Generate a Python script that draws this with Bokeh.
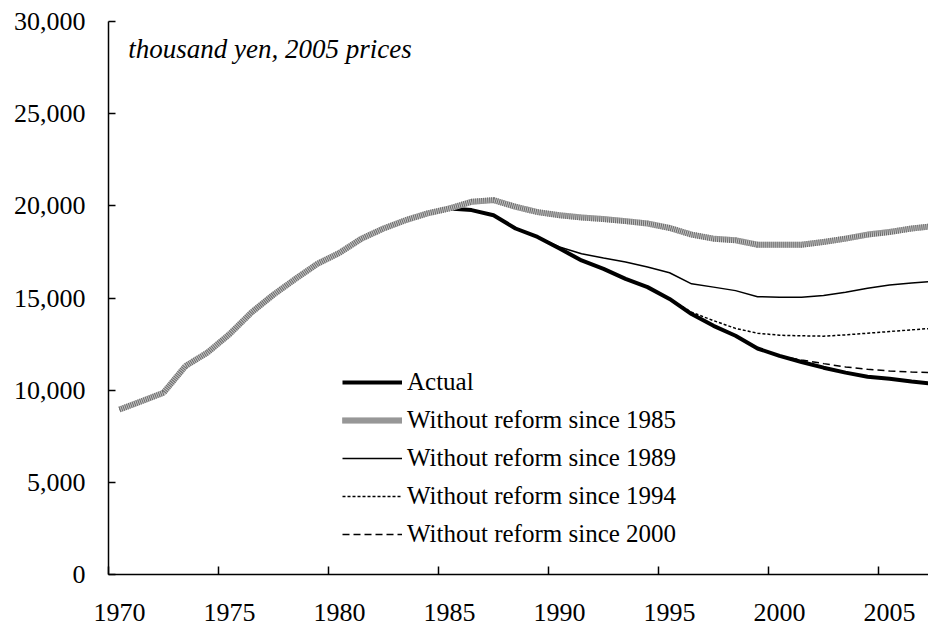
from bokeh.plotting import figure
from bokeh.models import (FixedTicker, NumeralTickFormatter, LinearAxis, Legend,
                          LegendItem, Label, Range1d)
from bokeh.embed import file_html
from bokeh.resources import INLINE

# ---------------- data (thousand yen, 2005 prices) ----------------
years = list(range(1970, 2008))
actual = [8950, 9400, 9860, 11310, 12040, 13040, 14220, 15180, 16040, 16860,
          17450, 18220, 18770, 19220, 19590, 19860, 19770, 19490, 18770, 18310,
          17680, 17040, 16580, 16040, 15590, 14950, 14130, 13490, 12950, 12260,
          11860, 11530, 11220, 10950, 10730, 10620, 10470, 10350]

years_1985 = list(range(1970, 2008))
wo_1985 = [8950, 9400, 9860, 11310, 12040, 13040, 14220, 15180, 16040, 16860,
           17450, 18220, 18770, 19220, 19590, 19860, 20220, 20310, 19950, 19660,
           19490, 19370, 19280, 19170, 19040, 18800, 18440, 18220, 18130, 17890,
           17890, 17890, 18040, 18220, 18440, 18580, 18770, 18900]

years_1989 = list(range(1989, 2008))
wo_1989 = [18310, 17770, 17400, 17170, 16950, 16680, 16370, 15770, 15590, 15400,
           15070, 15040, 15040, 15130, 15310, 15530, 15710, 15820, 15900]

years_1994 = list(range(1995, 2008))
wo_1994 = [14950, 14230, 13770, 13350, 13090, 12980, 12950, 12930, 13000, 13090,
           13180, 13270, 13360]

years_2000 = list(range(2000, 2008))
wo_2000 = [11860, 11640, 11440, 11260, 11130, 11040, 10980, 10950]

y_ticks = [0, 5000, 10000, 15000, 20000, 25000, 30000]
x_label_ticks = [1970, 1975, 1980, 1985, 1990, 1995, 2000, 2005]
x_boundary_ticks = [1969.5, 1974.5, 1979.5, 1984.5, 1989.5, 1994.5, 1999.5, 2004.5]

labels = ["Actual", "Without reform since 1985", "Without reform since 1989",
          "Without reform since 1994", "Without reform since 2000"]
unit_text = "thousand yen, 2005 prices"

FONT = "Liberation Serif"

# ---------------- figure ----------------
p = figure(width=928, height=627, output_backend="svg", toolbar_location=None,
           x_range=Range1d(1969.5, 2006.77), y_range=Range1d(0, 30000),
           x_axis_location=None,
           min_border_left=108, min_border_top=21, min_border_bottom=53,
           min_border_right=0)
p.outline_line_color = None
p.grid.visible = False
p.background_fill_color = "white"
p.border_fill_color = "white"

# y axis
ya = p.yaxis[0]
ya.ticker = FixedTicker(ticks=y_ticks)
ya.formatter = NumeralTickFormatter(format="0,0")
ya.major_tick_in = 7
ya.major_tick_out = 0
ya.minor_tick_in = 0
ya.minor_tick_out = 0
ya.axis_line_width = 1.5
ya.major_tick_line_width = 1.5
ya.axis_line_color = "black"
ya.major_tick_line_color = "black"
ya.major_label_standoff = 23
ya.major_label_text_font = FONT
ya.major_label_text_font_size = "26px"
ya.major_label_text_color = "black"

# x axis: tick marks at year boundaries
xt = LinearAxis(ticker=FixedTicker(ticks=x_boundary_ticks),
                major_label_overrides={t: "" for t in x_boundary_ticks},
                major_tick_in=8, major_tick_out=0, minor_tick_in=0, minor_tick_out=0,
                axis_line_width=1.5, major_tick_line_width=1.5,
                axis_line_color="black", major_tick_line_color="black",
                major_label_standoff=0, major_label_text_font_size="1px")
p.add_layout(xt, "below")
# x axis: labels centred on the years
xl = LinearAxis(ticker=FixedTicker(ticks=x_label_ticks),
                axis_line_color=None, major_tick_line_color=None,
                minor_tick_line_color=None,
                major_tick_in=0, major_tick_out=0,
                major_label_standoff=29,
                major_label_text_font=FONT, major_label_text_font_size="26px",
                major_label_text_color="black")
p.add_layout(xl, "below")

# ---------------- lines ----------------
r2000 = p.line(years_2000, wo_2000, line_color="black", line_width=1.5, line_dash="7 4")
r1994 = p.line(years_1994, wo_1994, line_color="black", line_width=1.5, line_dash="3 2")
r1989 = p.line(years_1989, wo_1989, line_color="black", line_width=1.5)
ract = p.line(years, actual, line_color="black", line_width=4)
r1985a = p.line(years_1985, wo_1985, line_color="#c4c4c4", line_width=6)
r1985b = p.line(years_1985, wo_1985, line_color="#6a6a6a", line_width=6, line_dash="1 1")

legend = Legend(items=[
    LegendItem(label=labels[0], renderers=[ract]),
    LegendItem(label=labels[1], renderers=[r1985a, r1985b]),
    LegendItem(label=labels[2], renderers=[r1989]),
    LegendItem(label=labels[3], renderers=[r1994]),
    LegendItem(label=labels[4], renderers=[r2000]),
], location=(234, 26), orientation="vertical",
    padding=0, margin=0, spacing=10, border_line_color=None,
    background_fill_alpha=0, glyph_width=60, glyph_height=26, label_height=26,
    label_standoff=5, label_text_font=FONT, label_text_font_size="25px",
    label_text_color="black")
p.add_layout(legend, "center")

p.add_layout(Label(x=1970.4, y=28500, text=unit_text, text_font=FONT,
                   text_font_size="27px", text_font_style="italic",
                   text_baseline="alphabetic", text_color="black"))

open("out.html", "w").write(file_html(p, INLINE))
